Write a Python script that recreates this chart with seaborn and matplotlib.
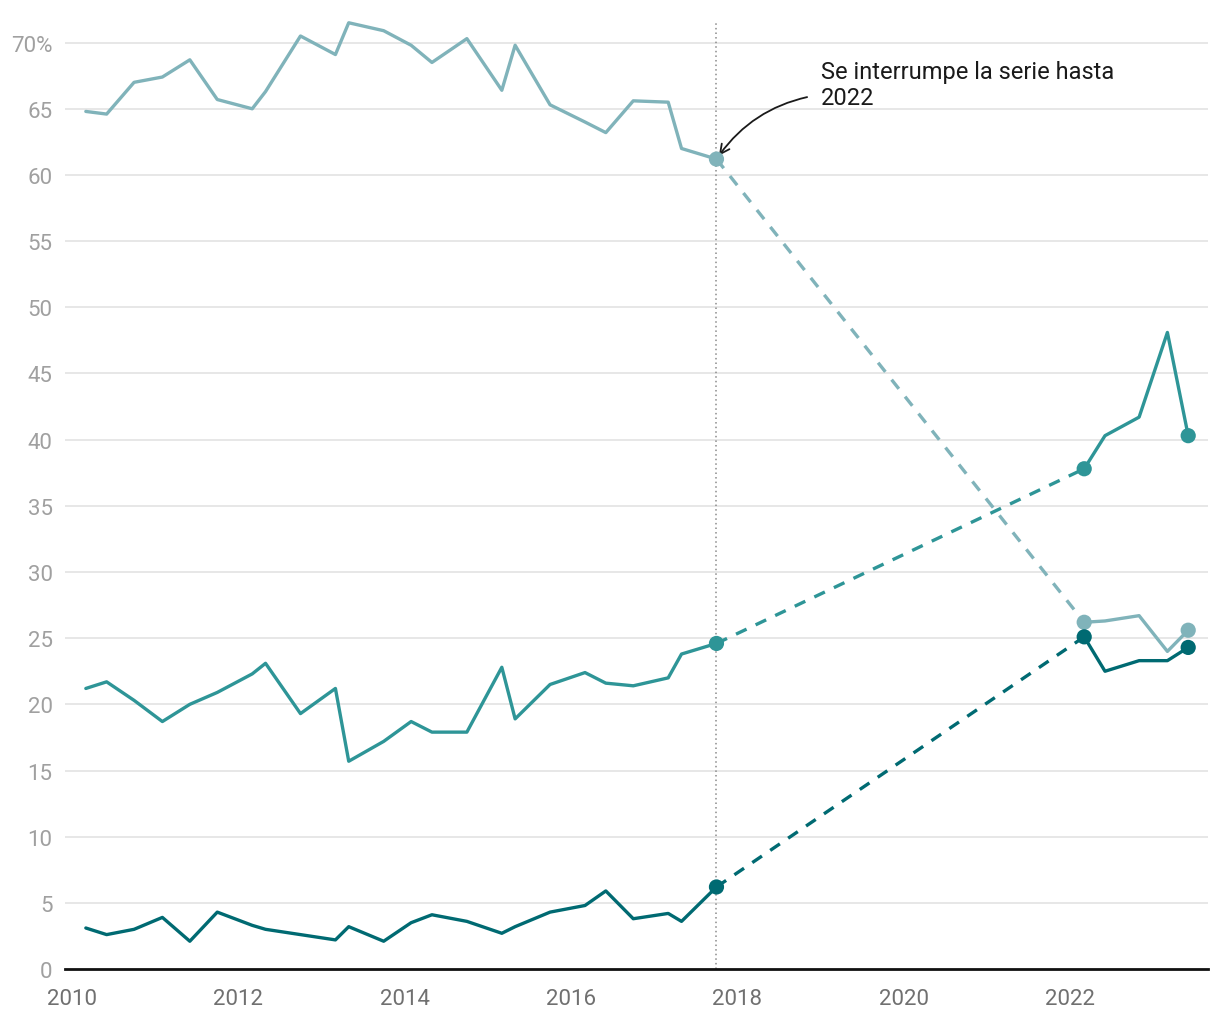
import pandas as pd
import seaborn as sns
import matplotlib.pyplot as plt

# fechas (año decimal) de cada observación
fechas_antes = [2010.17, 2010.42, 2010.75, 2011.09, 2011.42, 2011.75, 2012.17, 2012.33,
                2012.75, 2013.17, 2013.33, 2013.75, 2014.08, 2014.33, 2014.75, 2015.17,
                2015.33, 2015.75, 2016.17, 2016.42, 2016.75, 2017.17, 2017.33, 2017.75]
fechas_despues = [2022.17, 2022.42, 2022.83, 2023.17, 2023.42]

# serie clara (arriba)
serie_a = [64.8, 64.6, 67.0, 67.4, 68.7, 65.7, 65.0, 66.3, 70.5, 69.1, 71.5, 70.9,
           69.8, 68.5, 70.3, 66.4, 69.8, 65.3, 64.0, 63.2, 65.6, 65.5, 62.0, 61.2]
serie_a_2022 = [26.2, 26.3, 26.7, 24.0, 25.6]

# serie media
serie_b = [21.2, 21.7, 20.3, 18.7, 20.0, 20.9, 22.3, 23.1, 19.3, 21.2, 15.7, 17.2,
           18.7, 17.9, 17.9, 22.8, 18.9, 21.5, 22.4, 21.6, 21.4, 22.0, 23.8, 24.6]
serie_b_2022 = [37.8, 40.3, 41.7, 48.1, 40.3]

# serie oscura (abajo)
serie_c = [3.1, 2.6, 3.0, 3.9, 2.1, 4.3, 3.3, 3.0, 2.6, 2.2, 3.2, 2.1,
           3.5, 4.1, 3.6, 2.7, 3.2, 4.3, 4.8, 5.9, 3.8, 4.2, 3.6, 6.2]
serie_c_2022 = [25.1, 22.5, 23.3, 23.3, 24.3]

colores = ["#80b3ba", "#2e9597", "#006a72"]

y_ticks = [0, 5, 10, 15, 20, 25, 30, 35, 40, 45, 50, 55, 60, 65, 70]
y_labels = ["0", "5", "10", "15", "20", "25", "30", "35", "40", "45", "50", "55", "60", "65", "70%"]
x_ticks = [2010, 2012, 2014, 2016, 2018, 2020, 2022]

sns.set_theme(style="white")
plt.rcParams["font.family"] = ["Roboto", "DejaVu Sans"]

fig = plt.figure(figsize=(12.2, 10.2), dpi=100)
ax = fig.add_axes([0.0533, 0.049, 0.937, 0.929])

for gy in y_ticks[1:]:
    ax.axhline(gy, color="#e3e3e3", lw=1.2, zorder=0)

ax.axvline(fechas_antes[-1], color="#8a8a8a", lw=1.1, linestyle=(0, (1, 2)), zorder=1)

series = [(serie_a, serie_a_2022), (serie_b, serie_b_2022), (serie_c, serie_c_2022)]
for (antes, despues), color in zip(series, colores):
    sns.lineplot(x=fechas_antes, y=antes, color=color, lw=2.4, ax=ax, zorder=3)
    sns.lineplot(x=fechas_despues, y=despues, color=color, lw=2.4, ax=ax, zorder=3)
    # tramo sin datos
    sns.lineplot(x=[fechas_antes[-1], fechas_despues[0]], y=[antes[-1], despues[0]],
                 color=color, lw=2.4, ax=ax, zorder=2, linestyle=(0, (3.5, 3)))
    sns.scatterplot(x=[fechas_antes[-1], fechas_despues[0], fechas_despues[-1]],
                    y=[antes[-1], despues[0], despues[-1]],
                    color=color, s=120, edgecolor="none", ax=ax, zorder=4)

ax.annotate("Se interrumpe la serie hasta\n2022",
            xy=(fechas_antes[-1], serie_a[-1]), xytext=(2019.01, 68.7),
            ha="left", va="top", fontsize=17, color="#1a1a1a", linespacing=1.2,
            arrowprops=dict(arrowstyle="->", color="#1a1a1a", lw=1.3,
                            connectionstyle="arc3,rad=0.22", relpos=(0, 0.3),
                            shrinkA=8, shrinkB=3))

ax.set_xlim(2009.92, 2023.66)
ax.set_ylim(0, 71.6)
ax.set_xticks(x_ticks)
ax.set_xticklabels([str(x) for x in x_ticks], fontsize=16, color="#707070")
ax.set_yticks(y_ticks)
ax.set_yticklabels(y_labels, fontsize=16, color="#a0a0a0")
ax.tick_params(axis="both", length=0)
ax.tick_params(axis="x", pad=14)
ax.tick_params(axis="y", pad=9)
ax.set_xlabel("")
ax.set_ylabel("")
for lado in ["left", "right", "top"]:
    ax.spines[lado].set_visible(False)
ax.spines["bottom"].set_color("#111111")
ax.spines["bottom"].set_linewidth(2)
ax.spines["bottom"].set_zorder(5)

fig.savefig("out.png", dpi=100, facecolor="white")
